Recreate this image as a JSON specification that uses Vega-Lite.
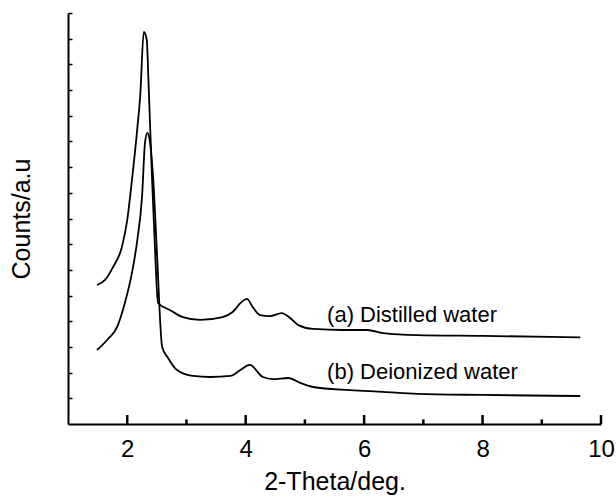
{
  "$schema": "https://vega.github.io/schema/vega-lite/v6.json",
  "autosize": "none",
  "width": 533,
  "height": 411,
  "padding": {"left": 68, "top": 13, "right": 15, "bottom": 75},
  "background": "white",
  "config": {
    "view": {"stroke": null},
    "font": "Liberation Sans",
    "axis": {"grid": false, "domainColor": "black", "domainWidth": 2, "tickColor": "black", "tickWidth": 2, "labelColor": "black", "titleColor": "black", "labelFont": "Liberation Sans", "titleFont": "Liberation Sans", "titleFontWeight": "normal"}
  },
  "datasets": {
    "curves": [
      {"sample": "a", "theta": 1.49, "counts": 5.41},
      {"sample": "a", "theta": 1.625, "counts": 5.61},
      {"sample": "a", "theta": 1.76, "counts": 6.11},
      {"sample": "a", "theta": 1.91, "counts": 6.89},
      {"sample": "a", "theta": 2.0, "counts": 7.94},
      {"sample": "a", "theta": 2.08, "counts": 9.5},
      {"sample": "a", "theta": 2.17, "counts": 11.5},
      {"sample": "a", "theta": 2.22, "counts": 12.8},
      {"sample": "a", "theta": 2.28, "counts": 15.26},
      {"sample": "a", "theta": 2.33, "counts": 14.95},
      {"sample": "a", "theta": 2.36, "counts": 13.27},
      {"sample": "a", "theta": 2.42, "counts": 9.5},
      {"sample": "a", "theta": 2.47, "counts": 6.77},
      {"sample": "a", "theta": 2.52, "counts": 4.71},
      {"sample": "a", "theta": 2.72, "counts": 4.44},
      {"sample": "a", "theta": 2.94, "counts": 4.16},
      {"sample": "a", "theta": 3.23, "counts": 4.05},
      {"sample": "a", "theta": 3.61, "counts": 4.16},
      {"sample": "a", "theta": 3.78, "counts": 4.36},
      {"sample": "a", "theta": 3.93, "counts": 4.75},
      {"sample": "a", "theta": 4.02, "counts": 4.87},
      {"sample": "a", "theta": 4.12, "counts": 4.55},
      {"sample": "a", "theta": 4.24, "counts": 4.24},
      {"sample": "a", "theta": 4.41, "counts": 4.2},
      {"sample": "a", "theta": 4.61, "counts": 4.32},
      {"sample": "a", "theta": 4.75, "counts": 4.13},
      {"sample": "a", "theta": 4.89, "counts": 3.85},
      {"sample": "a", "theta": 5.14, "counts": 3.7},
      {"sample": "a", "theta": 5.65, "counts": 3.66},
      {"sample": "a", "theta": 6.05, "counts": 3.66},
      {"sample": "a", "theta": 6.32, "counts": 3.54},
      {"sample": "a", "theta": 6.9, "counts": 3.46},
      {"sample": "a", "theta": 8.01, "counts": 3.43},
      {"sample": "a", "theta": 9.14, "counts": 3.39},
      {"sample": "a", "theta": 9.65, "counts": 3.37},
      {"sample": "b", "theta": 1.49, "counts": 2.88},
      {"sample": "b", "theta": 1.66, "counts": 3.27},
      {"sample": "b", "theta": 1.83, "counts": 3.78},
      {"sample": "b", "theta": 1.96, "counts": 4.71},
      {"sample": "b", "theta": 2.08, "counts": 5.88},
      {"sample": "b", "theta": 2.17, "counts": 7.16},
      {"sample": "b", "theta": 2.25, "counts": 8.84},
      {"sample": "b", "theta": 2.3, "counts": 10.94},
      {"sample": "b", "theta": 2.34, "counts": 11.33},
      {"sample": "b", "theta": 2.37, "counts": 11.17},
      {"sample": "b", "theta": 2.44, "counts": 9.5},
      {"sample": "b", "theta": 2.5, "counts": 6.77},
      {"sample": "b", "theta": 2.59, "counts": 3.0},
      {"sample": "b", "theta": 2.69, "counts": 2.57},
      {"sample": "b", "theta": 2.84, "counts": 2.1},
      {"sample": "b", "theta": 3.11, "counts": 1.87},
      {"sample": "b", "theta": 3.4, "counts": 1.83},
      {"sample": "b", "theta": 3.74, "counts": 1.87},
      {"sample": "b", "theta": 3.91, "counts": 2.1},
      {"sample": "b", "theta": 4.07, "counts": 2.3},
      {"sample": "b", "theta": 4.29, "counts": 1.83},
      {"sample": "b", "theta": 4.46, "counts": 1.75},
      {"sample": "b", "theta": 4.72, "counts": 1.79},
      {"sample": "b", "theta": 4.92, "counts": 1.6},
      {"sample": "b", "theta": 5.14, "counts": 1.44},
      {"sample": "b", "theta": 5.76, "counts": 1.32},
      {"sample": "b", "theta": 6.32, "counts": 1.25},
      {"sample": "b", "theta": 6.9, "counts": 1.17},
      {"sample": "b", "theta": 8.01, "counts": 1.13},
      {"sample": "b", "theta": 9.65, "counts": 1.09}
    ],
    "labels": [
      {"theta": 5.375, "counts": 4.24, "text": "(a) Distilled water"},
      {"theta": 5.375, "counts": 2.02, "text": "(b) Deionized water"}
    ],
    "xticks": [
      {"theta": 2, "kind": "major"},
      {"theta": 3, "kind": "minor"},
      {"theta": 4, "kind": "major"},
      {"theta": 5, "kind": "minor"},
      {"theta": 6, "kind": "major"},
      {"theta": 7, "kind": "minor"},
      {"theta": 8, "kind": "major"},
      {"theta": 9, "kind": "minor"},
      {"theta": 10, "kind": "major"}
    ]
  },
  "resolve": {"axis": {"x": "independent", "y": "independent"}},
  "layer": [
    {
      "data": {"name": "curves"},
      "transform": [{"filter": "datum.sample === 'a'"}],
      "mark": {"type": "line", "color": "black", "strokeWidth": 1.8, "interpolate": "monotone"},
      "encoding": {
        "x": {
          "field": "theta", "type": "quantitative",
          "scale": {"domain": [1, 10], "nice": false},
          "axis": {
            "orient": "bottom",
            "title": "2-Theta/deg.", "titleFontSize": 25, "titlePadding": 8,
            "values": [2, 4, 6, 8, 10],
            "labelFontSize": 24, "labelPadding": 13, "ticks": false,
            "labelFlush": false, "labelOverlap": false
          }
        },
        "y": {
          "field": "counts", "type": "quantitative",
          "scale": {"domain": [0, 16], "nice": false},
          "axis": {
            "orient": "left", "offset": -4, "domain": false,
            "title": "Counts/a.u", "titleFontSize": 25, "titlePadding": 33,
            "values": [1, 2, 3, 4, 5, 6, 7, 8, 9, 10, 11, 12, 13, 14, 15, 16],
            "labels": false, "tickSize": 4, "tickWidth": 1.5
          }
        },
        "order": {"field": "theta", "type": "quantitative"}
      }
    },
    {
      "data": {"name": "curves"},
      "transform": [{"filter": "datum.sample === 'b'"}],
      "mark": {"type": "line", "color": "black", "strokeWidth": 1.8, "interpolate": "monotone"},
      "encoding": {
        "x": {"field": "theta", "type": "quantitative", "axis": null},
        "y": {
          "field": "counts", "type": "quantitative",
          "axis": {"orient": "left", "domain": true, "ticks": false, "labels": false, "title": null}
        },
        "order": {"field": "theta", "type": "quantitative"}
      }
    },
    {
      "data": {"name": "xticks"},
      "transform": [{"filter": "datum.kind === 'major'"}],
      "mark": {"type": "rule", "color": "black", "strokeWidth": 2.5},
      "encoding": {
        "x": {"field": "theta", "type": "quantitative", "axis": null},
        "y": {"datum": 0, "type": "quantitative", "axis": null},
        "y2": {"datum": 0.35}
      }
    },
    {
      "data": {"name": "xticks"},
      "transform": [{"filter": "datum.kind === 'minor'"}],
      "mark": {"type": "rule", "color": "black", "strokeWidth": 2.5},
      "encoding": {
        "x": {"field": "theta", "type": "quantitative", "axis": null},
        "y": {"datum": 0, "type": "quantitative", "axis": null},
        "y2": {"datum": 0.18}
      }
    },
    {
      "data": {"name": "labels"},
      "mark": {"type": "text", "align": "left", "baseline": "middle", "fontSize": 22, "font": "Liberation Sans", "color": "black"},
      "encoding": {
        "x": {"field": "theta", "type": "quantitative", "axis": null},
        "y": {"field": "counts", "type": "quantitative", "axis": null},
        "text": {"field": "text"}
      }
    }
  ]
}
